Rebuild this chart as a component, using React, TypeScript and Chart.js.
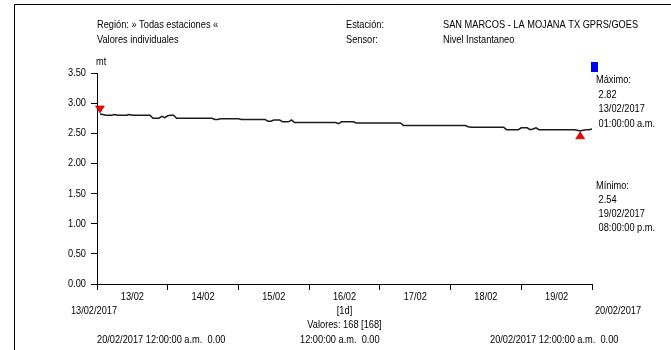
import React, { useEffect, useRef } from "react";
import { Chart, registerables } from "chart.js";

Chart.register(...registerables);

// hourly readings, 13/02/2017 01:00 -> 20/02/2017 00:00 (168 values)
const day1 = [2.82, 2.81, 2.80, 2.80, 2.80, 2.81, 2.80, 2.80, 2.80, 2.80, 2.81, 2.80, 2.80, 2.80, 2.80, 2.80, 2.80, 2.80, 2.75, 2.75, 2.75, 2.78, 2.76, 2.79];
const day2 = [2.80, 2.80, 2.75, 2.75, 2.75, 2.75, 2.75, 2.75, 2.75, 2.75, 2.75, 2.75, 2.75, 2.75, 2.75, 2.73, 2.73, 2.74, 2.74, 2.74, 2.74, 2.74, 2.74, 2.74];
const day3 = [2.73, 2.73, 2.73, 2.73, 2.73, 2.73, 2.73, 2.73, 2.73, 2.70, 2.70, 2.72, 2.72, 2.72, 2.69, 2.69, 2.69, 2.72, 2.68, 2.68, 2.68, 2.68, 2.68, 2.68];
const day4 = [2.68, 2.68, 2.68, 2.68, 2.68, 2.68, 2.68, 2.68, 2.68, 2.66, 2.69, 2.69, 2.69, 2.69, 2.69, 2.67, 2.67, 2.67, 2.67, 2.67, 2.67, 2.67, 2.67, 2.67];
const day5 = [2.67, 2.67, 2.67, 2.67, 2.67, 2.67, 2.67, 2.63, 2.63, 2.63, 2.63, 2.63, 2.63, 2.63, 2.63, 2.63, 2.63, 2.63, 2.63, 2.63, 2.63, 2.63, 2.63, 2.63];
const day6 = [2.63, 2.63, 2.63, 2.63, 2.63, 2.61, 2.60, 2.60, 2.60, 2.60, 2.60, 2.60, 2.60, 2.60, 2.60, 2.60, 2.60, 2.60, 2.56, 2.56, 2.56, 2.56, 2.56, 2.59];
const day7 = [2.59, 2.59, 2.56, 2.57, 2.59, 2.56, 2.56, 2.56, 2.56, 2.56, 2.56, 2.56, 2.56, 2.56, 2.56, 2.56, 2.56, 2.56, 2.55, 2.54, 2.55, 2.56, 2.56, 2.57];
const levelValues = [...day1, ...day2, ...day3, ...day4, ...day5, ...day6, ...day7];

const dayLabels = ["13/02", "14/02", "15/02", "16/02", "17/02", "18/02", "19/02"];
const yTicks = [0, 0.5, 1, 1.5, 2, 2.5, 3, 3.5];
const startDate = "13/02/2017";
const endDate = "20/02/2017";
const headerLeft = ["Región: » Todas estaciones «", "Valores individuales"];
const headerMidLabels = ["Estación:", "Sensor:"];
const headerMidValues = ["SAN MARCOS - LA MOJANA TX GPRS/GOES", "Nivel Instantaneo"];
const unitLabel = "mt";
const maxInfo = ["Máximo:", " 2.82", " 13/02/2017", " 01:00:00 a.m."];
const minInfo = ["Mínimo:", " 2.54", " 19/02/2017", " 08:00:00 p.m."];
const intervalLabel = "[1d]";
const countLabel = "Valores: 168 [168]";
const footer = ["20/02/2017 12:00:00 a.m.  0.00", "12:00:00 a.m.  0.00", "20/02/2017 12:00:00 a.m.  0.00"];

const FONT = "11px 'Liberation Sans', Arial, sans-serif";
const SQUEEZE = 0.84;

const overlay = {
  id: "overlay",
  afterDraw(chart: any) {
    const ctx = chart.ctx as CanvasRenderingContext2D;
    const xs = chart.scales.x;
    const ys = chart.scales.y;
    const txt = (t: string, x: number, y: number, align: CanvasTextAlign = "left") => {
      ctx.save();
      ctx.translate(x, y);
      ctx.scale(SQUEEZE, 1);
      ctx.font = FONT;
      ctx.fillStyle = "#000";
      ctx.textBaseline = "middle";
      ctx.textAlign = align;
      ctx.fillText(t, 0, 0);
      ctx.restore();
    };
    ctx.save();
    // frame
    ctx.strokeStyle = "#000";
    ctx.lineWidth = 1;
    ctx.beginPath();
    ctx.moveTo(14.5, 350);
    ctx.lineTo(14.5, 4.5);
    ctx.lineTo(671, 4.5);
    ctx.stroke();

    headerLeft.forEach((t, i) => txt(t, 97, 25 + i * 15));
    headerMidLabels.forEach((t, i) => txt(t, 346, 25 + i * 15));
    headerMidValues.forEach((t, i) => txt(t, 443, 25 + i * 15));
    txt(unitLabel, 96, 62);

    // y tick labels
    yTicks.forEach((v) => txt(v.toFixed(2), ys.left + ys.width - 11, ys.getPixelForValue(v), "right"));

    // legend square
    ctx.fillStyle = "#0000ff";
    ctx.fillRect(591, 62, 7, 10);
    maxInfo.forEach((t, i) => txt(t, 596, 80 + i * 14.5));
    minInfo.forEach((t, i) => txt(t, 596, 186 + i * 14));

    // day labels centered between ticks
    dayLabels.forEach((d, i) => txt(d, xs.getPixelForValue(i * 24 + 12), 297, "center"));
    const mid = (xs.left + xs.right) / 2;
    txt(startDate, xs.left - 3, 311, "center");
    txt(intervalLabel, mid, 311, "center");
    txt(endDate, xs.right + 26, 311, "center");
    txt(countLabel, mid, 325, "center");
    txt(footer[0], 97, 340);
    txt(footer[1], 300, 340);
    txt(footer[2], 490, 340);

    // max / min markers
    let iMax = 0;
    let iMin = 0;
    levelValues.forEach((v, i) => {
      if (v > levelValues[iMax]) iMax = i;
      if (v < levelValues[iMin]) iMin = i;
    });
    const tri = (px: number, py: number, dir: number) => {
      ctx.beginPath();
      ctx.moveTo(px, py);
      ctx.lineTo(px - 4.5, py - dir * 7);
      ctx.lineTo(px + 4.5, py - dir * 7);
      ctx.closePath();
      ctx.fillStyle = "#ff0000";
      ctx.fill();
      ctx.strokeStyle = "#800000";
      ctx.lineWidth = 0.6;
      ctx.stroke();
    };
    tri(xs.getPixelForValue(iMax + 1), ys.getPixelForValue(levelValues[iMax]) - 1, 1);
    tri(xs.getPixelForValue(iMin + 1), ys.getPixelForValue(levelValues[iMin]) + 1, -1);
    ctx.restore();
  },
};

export default function App() {
  const ref = useRef<HTMLCanvasElement | null>(null);
  useEffect(() => {
    if (!ref.current) return;
    const chart = new Chart(ref.current, {
      type: "line",
      data: {
        datasets: [
          {
            data: levelValues.map((v, i) => ({ x: i + 1, y: v })),
            borderColor: "#1a1a1a",
            borderWidth: 1.5,
            pointRadius: 0,
            tension: 0,
            fill: false,
          },
        ],
      },
      options: {
        responsive: false,
        animation: false,
        layout: { padding: { left: 0, right: 79, top: 73, bottom: 0 } },
        plugins: { legend: { display: false }, tooltip: { enabled: false } },
        scales: {
          x: {
            type: "linear",
            min: 0,
            max: 168,
            afterFit: (s: any) => {
              s.height = 66;
            },
            afterBuildTicks: (s: any) => {
              s.ticks = [0, 1, 2, 3, 4, 5, 6, 7].map((d) => ({ value: d * 24 }));
            },
            ticks: { callback: () => "", autoSkip: false },
            grid: { drawOnChartArea: false, drawTicks: true, tickLength: 6, color: "#000" },
            border: { display: true, color: "#000", width: 1 },
          },
          y: {
            min: 0,
            max: 3.5,
            afterFit: (s: any) => {
              s.width = 97;
            },
            afterBuildTicks: (s: any) => {
              s.ticks = yTicks.map((v) => ({ value: v }));
            },
            ticks: { callback: () => "" },
            grid: { drawOnChartArea: false, drawTicks: true, tickLength: 6, color: "#000" },
            border: { display: true, color: "#000", width: 1 },
          },
        },
      },
      plugins: [overlay],
    });
    return () => chart.destroy();
  }, []);
  return (
    <div style={{ position: "fixed", left: 0, top: 0, width: 671, height: 350, background: "#fff" }}>
      <canvas ref={ref} width={671} height={350} style={{ display: "block" }} />
    </div>
  );
}
